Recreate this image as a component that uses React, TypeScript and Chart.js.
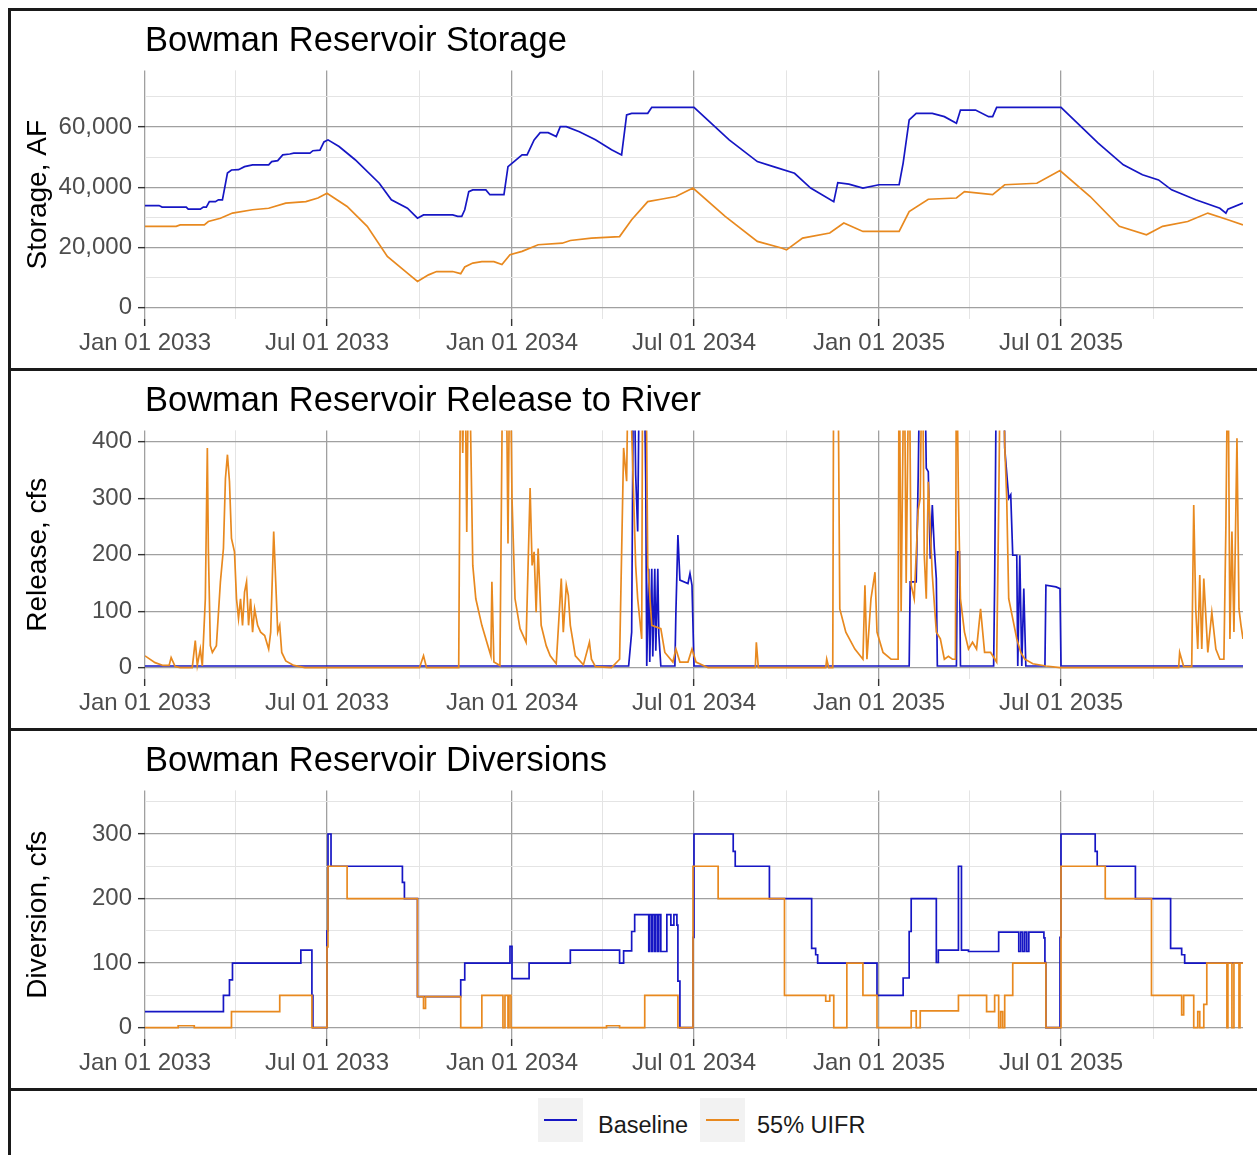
import { useEffect, useRef } from "react";
import { Chart, registerables } from "chart.js";

Chart.register(...registerables);

const FONT = "'Liberation Sans', Arial, Helvetica, sans-serif";
const BLUE = "#1616C4";
const ORANGE = "#E8891F";
const GRID_MAJOR = "#A0A0A0";
const GRID_MINOR = "#E4E4E4";

// x axis: days since Jan 01 2033
const DAY_MAX = 1092;
const X_TICK_DAYS = [0, 90, 181, 273, 365, 455, 546, 638, 730, 820, 911, 1003];
const X_TICK_LABELS = ["Jan 01 2033", "", "Jul 01 2033", "", "Jan 01 2034", "", "Jul 01 2034", "", "Jan 01 2035", "", "Jul 01 2035", ""];

const STORAGE_TICKS = [0, 10000, 20000, 30000, 40000, 50000, 60000, 70000];
const STORAGE_LABELS = ["0", "", "20,000", "", "40,000", "", "60,000", ""];
const RELEASE_TICKS = [0, 50, 100, 150, 200, 250, 300, 350, 400];
const RELEASE_LABELS = ["0", "", "100", "", "200", "", "300", "", "400"];
const DIVERSION_TICKS = [0, 50, 100, 150, 200, 250, 300, 350];
const DIVERSION_LABELS = ["0", "", "100", "", "200", "", "300", ""];

// Storage, AF  [day, value]
const STORAGE_BASELINE: [number, number][] = [
  [0, 33900], [14, 33900], [17, 33400], [41, 33400], [43, 32700], [55, 32700], [58, 33400], [61, 33400],
  [64, 35200], [70, 35200], [73, 35800], [77, 35800], [82, 44700], [86, 45700], [93, 45800], [99, 46800],
  [107, 47400], [123, 47400], [126, 48500], [132, 48800], [137, 50700], [144, 51000], [148, 51300],
  [164, 51300], [167, 52100], [174, 52300], [178, 55000], [182, 55700], [193, 53500], [209, 49100],
  [233, 41300], [245, 35800], [261, 33000], [271, 29700], [277, 30800], [306, 30800], [311, 30300],
  [315, 30300], [318, 32500], [322, 38500], [326, 39100], [339, 39100], [343, 37500], [357, 37500],
  [361, 46800], [367, 48500], [375, 50700], [380, 50700], [387, 55700], [393, 58100], [401, 58100],
  [409, 56800], [413, 60100], [419, 60100], [432, 58400], [448, 55700], [464, 52400], [474, 50700],
  [479, 64000], [484, 64500], [500, 64500], [504, 66500], [546, 66500], [581, 55700], [609, 48500],
  [625, 46800], [646, 44600], [662, 39700], [685, 35200], [689, 41500], [700, 41000], [714, 39700],
  [730, 40800], [750, 40800], [754, 48000], [760, 62300], [767, 64500], [783, 64500], [795, 63400],
  [807, 61200], [811, 65600], [826, 65600], [839, 63400], [843, 63400], [847, 66500], [911, 66500],
  [948, 54600], [973, 47400], [992, 44100], [1008, 42400], [1021, 39100], [1045, 35800], [1069, 33000],
  [1075, 31400], [1077, 32700], [1092, 34700],
];
const STORAGE_UIFR: [number, number][] = [
  [0, 27000], [31, 27000], [35, 27500], [59, 27500], [63, 28600], [75, 29700], [87, 31400], [107, 32500],
  [123, 33000], [140, 34700], [160, 35200], [172, 36400], [181, 38000], [201, 33600], [221, 27000],
  [241, 17000], [261, 11500], [271, 8700], [282, 10900], [290, 12000], [306, 12000], [314, 11300],
  [318, 13500], [326, 14800], [335, 15300], [347, 15300], [355, 14300], [363, 17600], [375, 18700],
  [391, 20900], [415, 21400], [423, 22300], [444, 23100], [472, 23600], [484, 29200], [500, 35200],
  [513, 36000], [528, 36900], [545, 39700], [577, 30300], [609, 22000], [633, 19800], [638, 19200],
  [654, 23100], [681, 24800], [695, 28100], [714, 25300], [750, 25300], [760, 31900], [779, 36000],
  [807, 36400], [815, 38500], [843, 37500], [855, 40800], [887, 41300], [910, 45500], [940, 36900],
  [969, 27000], [996, 24200], [1012, 27000], [1037, 28600], [1057, 31400], [1077, 29200], [1092, 27500],
];

// Release to river, cfs  [day, value]
const RELEASE_BASELINE: [number, number][] = [
  [0, 3], [481, 3], [484, 63], [486, 600], [488, 341], [490, 241], [492, 600], [496, 600], [498, 330],
  [499, 3], [501, 175], [502, 10], [504, 175], [505, 20], [507, 175], [508, 30], [510, 175], [511, 60],
  [513, 3], [527, 3], [528, 98], [530, 235], [532, 155], [540, 149], [542, 167], [544, 146], [546, 3],
  [760, 3], [761, 152], [767, 152], [769, 341], [771, 600], [775, 600], [777, 353], [779, 347], [781, 193],
  [783, 288], [785, 211], [787, 158], [788, 3], [807, 3], [808, 205], [810, 205], [811, 3], [844, 3],
  [845, 152], [847, 600], [854, 600], [855, 389], [859, 300], [861, 306], [863, 199], [867, 199], [868, 3],
  [870, 199], [872, 3], [874, 140], [876, 3], [895, 3], [896, 146], [906, 143], [910, 140], [911, 3],
  [1092, 3],
];
const RELEASE_UIFR: [number, number][] = [
  [0, 21], [10, 9], [18, 4], [24, 4], [26, 18], [30, 2], [35, 0], [47, 0], [50, 48], [52, 4], [55, 33],
  [57, 3], [60, 122], [62, 389], [63, 211], [65, 39], [67, 27], [71, 39], [75, 152], [78, 211], [80, 335],
  [82, 377], [84, 330], [86, 229], [89, 205], [91, 122], [93, 87], [95, 122], [97, 75], [99, 134],
  [101, 152], [103, 75], [105, 122], [107, 63], [109, 104], [112, 75], [115, 63], [119, 57], [123, 33],
  [125, 63], [128, 241], [130, 152], [132, 63], [134, 75], [136, 27], [140, 12], [148, 4], [159, 0],
  [273, 0], [277, 21], [280, 0], [312, 0], [314, 600], [316, 380], [318, 600], [320, 240], [322, 600],
  [324, 400], [326, 181], [329, 122], [335, 75], [341, 39], [344, 21], [345, 152], [347, 10], [353, 4],
  [356, 600], [358, 420], [359, 600], [361, 220], [363, 600], [365, 300], [368, 122], [373, 69], [379, 45],
  [383, 318], [385, 181], [387, 205], [389, 98], [391, 211], [394, 75], [399, 39], [403, 21], [409, 7],
  [414, 158], [416, 63], [419, 146], [421, 128], [423, 75], [428, 21], [436, 5], [442, 45], [444, 15],
  [448, 2], [464, 0], [472, 15], [476, 389], [479, 330], [481, 600], [485, 360], [487, 241], [488, 181],
  [490, 122], [494, 51], [495, 600], [498, 600], [500, 181], [504, 75], [513, 69], [517, 27], [525, 10],
  [528, 33], [532, 10], [540, 10], [544, 33], [548, 10], [560, 0], [607, 0], [608, 45], [610, 0], [677, 0],
  [678, 15], [680, 0], [684, 0], [685, 600], [689, 600], [691, 104], [697, 63], [706, 33], [714, 15],
  [716, 146], [718, 15], [722, 122], [726, 169], [728, 63], [734, 27], [742, 15], [749, 15], [750, 600],
  [752, 100], [755, 600], [757, 150], [760, 600], [762, 146], [765, 122], [769, 280], [771, 300], [773, 600],
  [775, 200], [777, 122], [779, 329], [783, 164], [787, 63], [791, 51], [795, 15], [799, 20], [803, 15],
  [806, 15], [807, 600], [809, 300], [811, 122], [815, 63], [819, 33], [823, 45], [827, 33], [831, 104],
  [835, 27], [841, 27], [847, 10], [849, 282], [851, 600], [853, 600], [855, 395], [857, 300], [859, 122],
  [863, 87], [867, 51], [871, 27], [875, 15], [883, 7], [896, 3], [910, 0], [1028, 0], [1029, 27],
  [1033, 2], [1041, 2], [1043, 288], [1045, 104], [1047, 33], [1049, 164], [1051, 33], [1053, 158],
  [1057, 27], [1061, 98], [1065, 33], [1069, 15], [1073, 15], [1075, 252], [1077, 600], [1079, 51],
  [1081, 241], [1083, 63], [1086, 406], [1088, 104], [1090, 75], [1092, 51],
];

// Diversions, cfs  [day the value starts, value]
const DIVERSION_BASELINE: [number, number][] = [
  [0, 25], [78, 50], [84, 74], [87, 100], [155, 120], [166, 50], [167, 0], [181, 150], [182, 300],
  [185, 250], [256, 225], [258, 200], [271, 48], [314, 74], [318, 100], [363, 126], [365, 76], [382, 100],
  [423, 120], [472, 100], [476, 119], [484, 149], [487, 175], [501, 118], [502, 175], [504, 118],
  [505, 175], [507, 118], [508, 175], [510, 118], [511, 175], [513, 118], [519, 175], [523, 159],
  [526, 175], [529, 159], [530, 72], [532, 0], [545, 140], [546, 300], [585, 273], [587, 250], [621, 200],
  [663, 123], [667, 113], [669, 100], [728, 50], [754, 77], [760, 149], [762, 200], [787, 101], [789, 120],
  [809, 250], [812, 120], [819, 118], [849, 148], [869, 118], [871, 148], [873, 118], [875, 148],
  [877, 118], [879, 148], [894, 139], [895, 101], [896, 0], [910, 140], [911, 300], [945, 273], [947, 250],
  [985, 200], [1020, 123], [1031, 113], [1034, 100], [1092, 100],
];
const DIVERSION_UIFR: [number, number][] = [
  [0, 0], [33, 3], [49, 0], [86, 25], [134, 50], [166, 0], [181, 125], [182, 250], [201, 200], [271, 48],
  [277, 30], [279, 48], [314, 0], [335, 50], [356, 0], [358, 50], [361, 0], [362, 50], [364, 0], [459, 3],
  [472, 0], [497, 50], [530, 0], [545, 250], [570, 200], [636, 50], [677, 41], [681, 50], [685, 0],
  [698, 100], [714, 50], [728, 0], [762, 26], [767, 0], [771, 26], [809, 50], [837, 25], [845, 50],
  [849, 0], [851, 25], [853, 0], [855, 50], [863, 100], [896, 0], [911, 250], [955, 200], [1001, 50],
  [1031, 20], [1033, 50], [1043, 0], [1047, 25], [1049, 0], [1053, 36], [1056, 100], [1076, 0],
  [1077, 100], [1081, 0], [1083, 100], [1088, 0], [1089, 100], [1092, 100],
];

type PanelCfg = {
  title: string;
  yTitle: string;
  yMin: number;
  yMax: number;
  yTicks: number[];
  yLabels: string[];
  baseline: [number, number][];
  uifr: [number, number][];
  stepped: boolean;
};

const PANELS: PanelCfg[] = [
  { title: "Bowman Reservoir Storage", yTitle: "Storage, AF", yMin: -3750, yMax: 78750, yTicks: STORAGE_TICKS, yLabels: STORAGE_LABELS, baseline: STORAGE_BASELINE, uifr: STORAGE_UIFR, stepped: false },
  { title: "Bowman Reservoir Release to River", yTitle: "Release, cfs", yMin: -20, yMax: 420, yTicks: RELEASE_TICKS, yLabels: RELEASE_LABELS, baseline: RELEASE_BASELINE, uifr: RELEASE_UIFR, stepped: false },
  { title: "Bowman Reservoir Diversions", yTitle: "Diversion, cfs", yMin: -17.5, yMax: 367.5, yTicks: DIVERSION_TICKS, yLabels: DIVERSION_LABELS, baseline: DIVERSION_BASELINE, uifr: DIVERSION_UIFR, stepped: true },
];

const CANVAS_W = 1246;
const CANVAS_H = 357;

function Panel({ cfg }: { cfg: PanelCfg }) {
  const ref = useRef<HTMLCanvasElement>(null);
  useEffect(() => {
    const toXY = (arr: [number, number][]) => arr.map(([x, y]) => ({ x, y }));
    const chart = new Chart(ref.current as HTMLCanvasElement, {
      type: "line",
      data: {
        datasets: [
          { label: "55% UIFR", data: toXY(cfg.uifr), borderColor: ORANGE, backgroundColor: ORANGE, borderWidth: 1.7, pointRadius: 0, stepped: cfg.stepped, tension: 0, order: 0 },
          { label: "Baseline", data: toXY(cfg.baseline), borderColor: BLUE, backgroundColor: BLUE, borderWidth: 1.7, pointRadius: 0, stepped: cfg.stepped, tension: 0, order: 1 },
        ],
      },
      options: {
        responsive: false,
        animation: false,
        devicePixelRatio: 1,
        layout: { padding: { left: 0, right: 14, top: 0, bottom: 0 } },
        plugins: {
          legend: { display: false },
          tooltip: { enabled: false },
          title: {
            display: true,
            text: cfg.title,
            align: "start",
            fullSize: false,
            color: "#000",
            font: { family: FONT, size: 34.5, weight: "normal" },
            padding: { top: 9.5, bottom: 8.5 },
          },
        },
        scales: {
          x: {
            type: "linear",
            min: 0,
            max: DAY_MAX,
            afterBuildTicks: (s: any) => { s.ticks = X_TICK_DAYS.map((v) => ({ value: v })); },
            afterFit: (s: any) => { s.height = 49; },
            ticks: {
              autoSkip: false, maxRotation: 0, minRotation: 0, padding: 3,
              color: "#4D4D4D", font: { family: FONT, size: 24 },
              callback: (_v: any, i: number) => X_TICK_LABELS[i],
            },
            grid: {
              color: (c: any) => (X_TICK_LABELS[c.index] ? GRID_MAJOR : GRID_MINOR),
              lineWidth: (c: any) => (X_TICK_LABELS[c.index] ? 1.3 : 1),
              tickColor: (c: any) => (X_TICK_LABELS[c.index] ? "#333333" : "rgba(0,0,0,0)"),
              tickLength: 7,
              tickWidth: 1.4,
            },
            border: { display: false },
          },
          y: {
            type: "linear",
            min: cfg.yMin,
            max: cfg.yMax,
            afterBuildTicks: (s: any) => { s.ticks = cfg.yTicks.map((v) => ({ value: v })); },
            afterFit: (s: any) => { s.width = 134; },
            ticks: {
              padding: 6,
              color: "#4D4D4D", font: { family: FONT, size: 24 },
              callback: (_v: any, i: number) => cfg.yLabels[i],
            },
            grid: {
              color: (c: any) => (cfg.yLabels[c.index] ? GRID_MAJOR : GRID_MINOR),
              lineWidth: (c: any) => (cfg.yLabels[c.index] ? 1.3 : 1),
              tickColor: (c: any) => (cfg.yLabels[c.index] ? "#333333" : "rgba(0,0,0,0)"),
              tickLength: 7,
              tickWidth: 1.4,
            },
            border: { display: false },
            title: {
              display: true,
              text: cfg.yTitle,
              color: "#000",
              font: { family: FONT, size: 28 },
              padding: { top: 10, bottom: 0 },
            },
          },
        },
      } as any,
    });
    return () => chart.destroy();
  }, [cfg]);
  return (
    <div style={{ height: CANVAS_H, borderBottom: "3px solid #1a1a1a", position: "relative", overflow: "hidden" }}>
      <canvas ref={ref} width={CANVAS_W} height={CANVAS_H} style={{ display: "block" }} />
    </div>
  );
}

function LegendKey({ left, color }: { left: number; color: string }) {
  return (
    <div style={{ position: "absolute", left, top: 7, width: 45, height: 44, background: "#F2F2F2" }}>
      <div style={{ position: "absolute", left: 6, width: 33, top: 21, height: 2, background: color }} />
    </div>
  );
}

export default function App() {
  return (
    <div
      style={{
        position: "fixed",
        left: 8,
        top: 8,
        width: 1275,
        height: 1170,
        borderLeft: "3px solid #1a1a1a",
        borderTop: "3px solid #1a1a1a",
        background: "#fff",
        fontFamily: FONT,
      }}
    >
      {PANELS.map((p) => (
        <Panel key={p.title} cfg={p} />
      ))}
      <div style={{ position: "relative", height: 70 }}>
        <LegendKey left={527} color={BLUE} />
        <span style={{ position: "absolute", left: 587, top: 23, fontSize: 23.5, lineHeight: "23px", color: "#1a1a1a", whiteSpace: "nowrap" }}>Baseline</span>
        <LegendKey left={689} color={ORANGE} />
        <span style={{ position: "absolute", left: 746, top: 23, fontSize: 23.5, lineHeight: "23px", color: "#1a1a1a", whiteSpace: "nowrap" }}>55% UIFR</span>
      </div>
    </div>
  );
}
